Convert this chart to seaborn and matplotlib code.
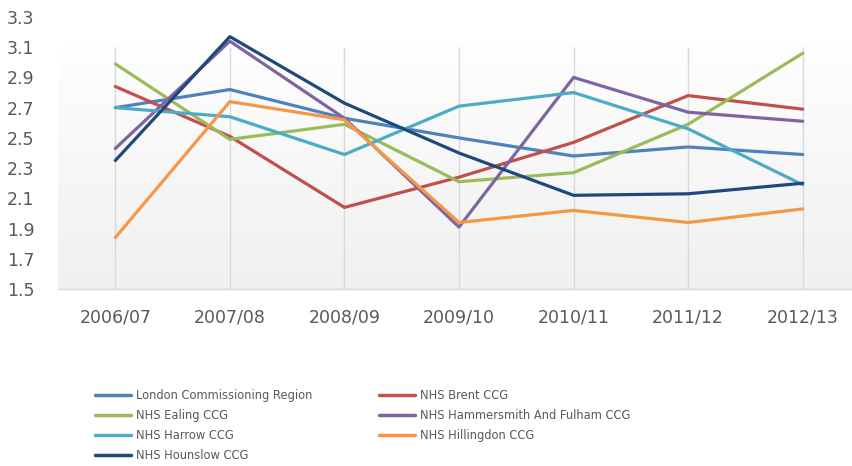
"""Line chart: CCG values by year, London region."""
import numpy as np
import pandas as pd
import matplotlib
matplotlib.use("Agg")
import matplotlib.pyplot as plt
from matplotlib.colors import LinearSegmentedColormap
import seaborn as sns

years = ["2006/07", "2007/08", "2008/09", "2009/10", "2010/11", "2011/12", "2012/13"]

london      = [2.70, 2.82, 2.63, 2.50, 2.38, 2.44, 2.39]
brent       = [2.84, 2.51, 2.04, 2.24, 2.47, 2.78, 2.69]
ealing      = [2.99, 2.49, 2.59, 2.21, 2.27, 2.59, 3.06]
hammersmith = [2.43, 3.14, 2.63, 1.91, 2.90, 2.67, 2.61]
harrow      = [2.70, 2.64, 2.39, 2.71, 2.80, 2.56, 2.19]
hillingdon  = [1.84, 2.74, 2.62, 1.94, 2.02, 1.94, 2.03]
hounslow    = [2.35, 3.17, 2.73, 2.40, 2.12, 2.13, 2.20]

series_names = ["London Commissioning Region", "NHS Brent CCG", "NHS Ealing CCG",
                "NHS Hammersmith And Fulham CCG", "NHS Harrow CCG",
                "NHS Hillingdon CCG", "NHS Hounslow CCG"]
series_values = [london, brent, ealing, hammersmith, harrow, hillingdon, hounslow]
colors = ["#4F81BD", "#C0504D", "#9BBB59", "#8064A2", "#4BACC6", "#F79646", "#1F497D"]

y_ticks = [1.5, 1.7, 1.9, 2.1, 2.3, 2.5, 2.7, 2.9, 3.1, 3.3]

rows = []
for name, vals in zip(series_names, series_values):
    for i, v in enumerate(vals):
        rows.append({"series": name, "pos": i, "value": v})
df = pd.DataFrame(rows)

sns.set_theme(style="white")
plt.rcParams["font.family"] = ["DejaVu Sans"]
TXT = "#595959"

fig = plt.figure(figsize=(8.53, 4.66), dpi=100)
ax = fig.add_axes([58 / 853, 177 / 466, 802 / 853, 272 / 466])

# plot-area gradient + vertical gridlines (Excel style)
cmap = LinearSegmentedColormap.from_list("bg", ["#F0F0F0", "#FEFEFE"])
grad = np.linspace(0, 1, 256).reshape(-1, 1)
ax.imshow(grad, cmap=cmap, origin="lower", aspect="auto",
          extent=(-0.5, 6.5, 1.5, 3.1), zorder=0)
ax.vlines(range(len(years)), 1.5, 3.1, color="#D9D9D9", lw=1, zorder=1)

sns.lineplot(data=df, x="pos", y="value", hue="series", hue_order=series_names,
             palette=colors, linewidth=2.3, sort=False, legend=False, ax=ax, zorder=3)

ax.set_xlim(-0.5, 6.5)
ax.set_ylim(1.5, 3.3)
ax.set_xticks(range(len(years)))
ax.set_xticklabels(years)
ax.set_yticks(y_ticks)
ax.set_yticklabels([f"{t:.1f}" for t in y_ticks])
ax.tick_params(axis="x", length=0, pad=14, labelsize=12.5, colors=TXT)
ax.tick_params(axis="y", length=0, pad=17, labelsize=12.5, colors=TXT)
ax.set_xlabel("")
ax.set_ylabel("")
for s in ["top", "right", "left"]:
    ax.spines[s].set_visible(False)
ax.spines["bottom"].set_color("#D9D9D9")
ax.spines["bottom"].set_linewidth(1)

# legend: two columns placed like the original
handles = [plt.Line2D([], [], color=c, lw=2.5) for c in colors]
col1 = [0, 2, 4, 6]
col2 = [1, 3, 5]
for idx, x0 in [(col1, 95 / 853), (col2, 379 / 853)]:
    fig.legend([handles[i] for i in idx], [series_names[i] for i in idx],
               loc="upper left", bbox_to_anchor=(x0, 1 - 389 / 466),
               frameon=False, fontsize=8.3, labelcolor=TXT,
               handlelength=3.1, handletextpad=0.45, labelspacing=0.62,
               borderpad=0, borderaxespad=0)

fig.savefig("out.png", dpi=100)
